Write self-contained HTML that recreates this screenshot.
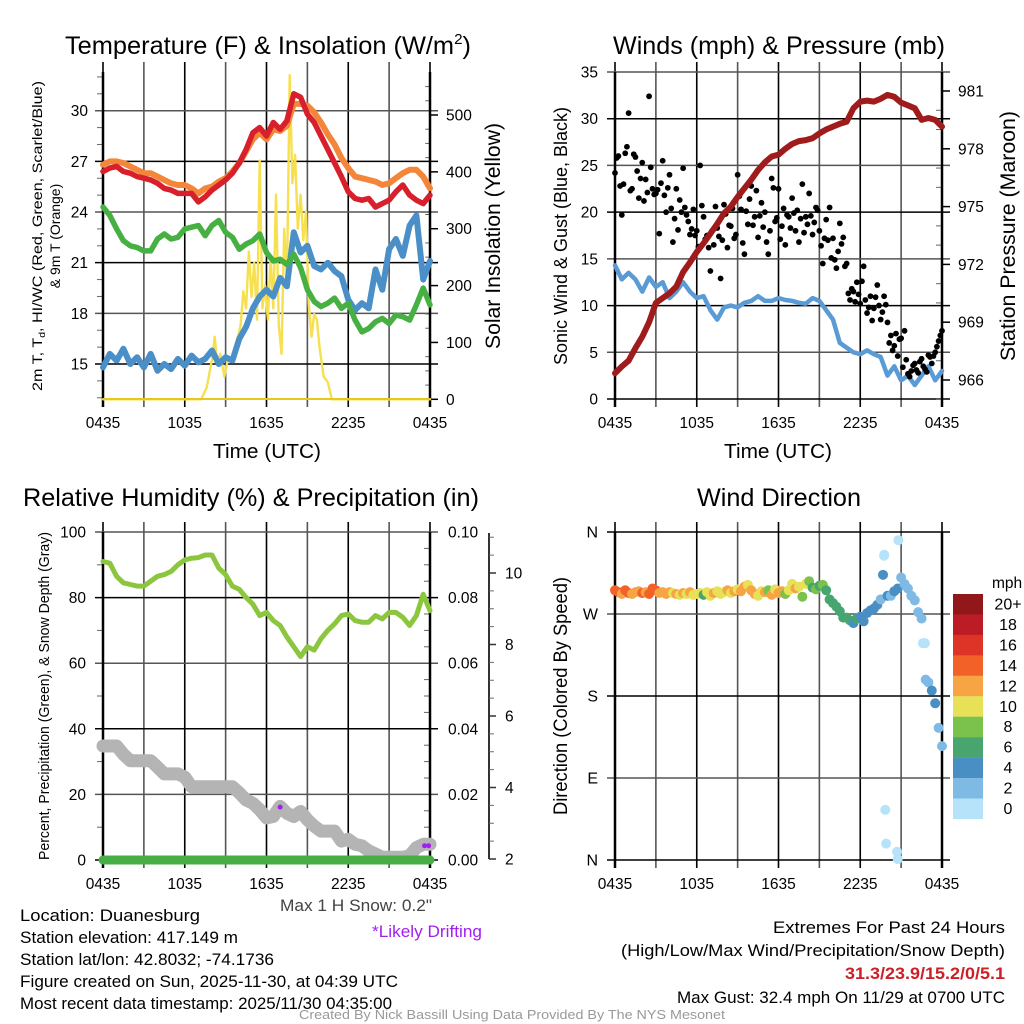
<!DOCTYPE html>
<html><head><meta charset="utf-8"><title>Duanesburg Meteogram</title>
<style>
html,body{margin:0;padding:0;background:#fff;}
svg{display:block;font-family:"Liberation Sans",sans-serif;}
</style></head>
<body>
<svg id="chart" xmlns="http://www.w3.org/2000/svg" width="1024" height="1024" viewBox="0 0 1024 1024">
<rect x="0" y="0" width="1024" height="1024" fill="#fff"/>
<text x="268" y="54" font-size="25" text-anchor="middle" textLength="406" lengthAdjust="spacingAndGlyphs">Temperature (F) &amp; Insolation (W/m<tspan font-size="15" dy="-10">2</tspan><tspan dy="10">)</tspan></text>
<text x="779" y="54" font-size="25" text-anchor="middle" textLength="332" lengthAdjust="spacingAndGlyphs">Winds (mph) &amp; Pressure (mb)</text>
<text x="251" y="506" font-size="25" text-anchor="middle" textLength="456" lengthAdjust="spacingAndGlyphs">Relative Humidity (%) &amp; Precipitation (in)</text>
<text x="779" y="506" font-size="25" text-anchor="middle" textLength="164" lengthAdjust="spacingAndGlyphs">Wind Direction</text>

<text x="267" y="458" font-size="20" text-anchor="middle" textLength="108" lengthAdjust="spacingAndGlyphs">Time (UTC)</text>
<text x="778" y="458" font-size="20" text-anchor="middle" textLength="108" lengthAdjust="spacingAndGlyphs">Time (UTC)</text>
<text transform="translate(42,236) rotate(-90)" font-size="14" text-anchor="middle" textLength="310" lengthAdjust="spacingAndGlyphs">2m T, T<tspan font-size="9" dy="3">d</tspan><tspan dy="-3">, HI/WC (Red, Green, Scarlet/Blue)</tspan></text>
<text transform="translate(60,236) rotate(-90)" font-size="14" text-anchor="middle">&amp; 9m T (Orange)</text>
<text transform="translate(500,236) rotate(-90)" font-size="21" text-anchor="middle" textLength="226" lengthAdjust="spacingAndGlyphs">Solar Insolation (Yellow)</text>
<text transform="translate(567,236) rotate(-90)" font-size="18.5" text-anchor="middle" textLength="258" lengthAdjust="spacingAndGlyphs">Sonic Wind &amp; Gust (Blue, Black)</text>
<text transform="translate(1015,236) rotate(-90)" font-size="21.5" text-anchor="middle" textLength="250" lengthAdjust="spacingAndGlyphs">Station Pressure (Maroon)</text>
<text transform="translate(49,696) rotate(-90)" font-size="14.5" text-anchor="middle" textLength="328" lengthAdjust="spacingAndGlyphs">Percent, Precipitation (Green), &amp; Snow Depth (Gray)</text>
<text transform="translate(567,696) rotate(-90)" font-size="19" text-anchor="middle" textLength="238" lengthAdjust="spacingAndGlyphs">Direction (Colored By Speed)</text>

<g font-size="16.5">
<text x="20" y="921" textLength="180" lengthAdjust="spacingAndGlyphs">Location: Duanesburg</text>
<text x="20" y="943" textLength="218" lengthAdjust="spacingAndGlyphs">Station elevation: 417.149 m</text>
<text x="20" y="965" textLength="254" lengthAdjust="spacingAndGlyphs">Station lat/lon: 42.8032; -74.1736</text>
<text x="20" y="987" textLength="378" lengthAdjust="spacingAndGlyphs">Figure created on Sun, 2025-11-30, at 04:39 UTC</text>
<text x="20" y="1009" textLength="372" lengthAdjust="spacingAndGlyphs">Most recent data timestamp: 2025/11/30 04:35:00</text>
</g>
<text x="432" y="911" font-size="16.5" fill="#444" text-anchor="end" textLength="152" lengthAdjust="spacingAndGlyphs">Max 1 H Snow: 0.2"</text>
<text x="427" y="937" font-size="16.5" fill="#a020f0" text-anchor="middle" textLength="110" lengthAdjust="spacingAndGlyphs">*Likely Drifting</text>
<g font-size="16.5" text-anchor="end">
<text x="1005" y="933" textLength="232" lengthAdjust="spacingAndGlyphs">Extremes For Past 24 Hours</text>
<text x="1005" y="956" textLength="384" lengthAdjust="spacingAndGlyphs">(High/Low/Max Wind/Precipitation/Snow Depth)</text>
<text x="1005" y="979" fill="#cc1f26" font-weight="bold" textLength="160" lengthAdjust="spacingAndGlyphs">31.3/23.9/15.2/0/5.1</text>
<text x="1005" y="1003" textLength="328" lengthAdjust="spacingAndGlyphs">Max Gust: 32.4 mph On 11/29 at 0700 UTC</text>
</g>
<text x="512" y="1019" font-size="12.5" fill="#999" text-anchor="middle" textLength="426" lengthAdjust="spacingAndGlyphs">Created By Nick Bassill Using Data Provided By The NYS Mesonet</text>
</svg>
<script>
// ---------- DATA ----------
const xTickLabels = ["0435","1035","1635","2235","0435"];
const halfHours = [0,0.5,1,1.5,2,2.5,3,3.5,4,4.5,5,5.5,6,6.5,7,7.5,8,8.5,9,9.5,10,10.5,11,11.5,12,12.5,13,13.5,14,14.5,15,15.5,16,16.5,17,17.5,18,18.5,19,19.5,20,20.5,21,21.5,22,22.5,23,23.5,24];
const tempTicks = [15,18,21,24,27,30];
const solarTicks = [0,100,200,300,400,500];
const temp2m = [26.4,26.6,26.7,26.4,26.3,26.1,26.0,25.9,25.7,25.4,25.3,25.1,25.1,25.1,24.6,24.9,25.3,25.6,25.9,26.3,26.9,27.7,28.7,29.0,28.5,29.3,28.9,29.4,31.0,30.8,29.8,29.3,28.5,27.7,26.9,26.1,25.2,24.8,24.7,24.8,24.3,24.5,24.7,25.2,25.6,25.0,24.7,24.5,25.0];
const temp9m = [26.8,27.0,27.0,26.9,26.7,26.5,26.3,26.3,26.1,25.9,25.7,25.6,25.6,25.4,25.1,25.4,25.5,25.8,26.0,26.4,26.9,27.6,28.3,28.7,28.3,28.9,28.8,29.1,30.4,30.4,30.3,29.9,29.3,28.6,28.0,27.2,26.6,26.1,26.0,25.9,25.8,25.6,25.7,26.0,26.3,26.5,26.5,26.1,25.4];
const dewpoint = [24.3,23.8,23.0,22.3,22.0,21.9,21.7,21.7,22.4,22.7,22.4,22.5,23.0,23.1,23.2,22.6,23.2,23.5,22.8,22.5,21.8,22.1,22.3,22.7,21.6,21.1,21.2,20.9,21.5,20.7,19.4,18.7,18.4,18.6,18.9,18.3,18.6,17.6,16.9,17.1,17.5,17.7,17.4,17.9,17.8,17.6,18.5,19.5,18.5];
const windChill = [14.8,15.6,15.2,15.9,15.0,15.4,14.8,15.6,14.6,15.0,14.7,15.3,14.9,15.5,15.1,15.3,15.8,15.0,15.4,15.2,16.5,17.2,18.3,19.0,19.4,19.0,20.1,19.6,22.8,21.6,22.0,20.8,20.6,21.0,20.5,20.2,18.8,18.2,18.6,18.3,20.6,19.4,21.8,22.4,21.4,23.2,23.8,20.0,21.1];
const solarTimes = [0,7.2,7.6,8.0,8.2,8.4,8.6,8.9,9.2,9.5,9.8,10.1,10.3,10.5,10.7,10.9,11.1,11.3,11.5,11.7,11.9,12.1,12.3,12.5,12.7,12.9,13.1,13.3,13.5,13.7,13.9,14.1,14.3,14.5,14.7,14.9,15.1,15.3,15.5,15.7,15.9,16.2,16.5,16.8,24];
const solarValues = [0,0,20,70,110,60,80,40,75,65,100,130,190,160,260,180,240,140,420,160,200,140,250,160,360,130,80,300,200,570,380,430,300,360,280,330,170,110,150,140,90,40,30,0,0];

const windTicks = [0,5,10,15,20,25,30,35];
const pressTicks = [966,969,972,975,978,981];
const sonicWind = [14.3,12.8,13.5,12.8,11.5,13.0,12.0,12.5,10.8,11.5,12.5,11.5,10.8,11.0,9.5,8.5,9.8,10.0,9.8,10.3,10.5,11.0,10.5,10.5,10.8,10.6,10.5,10.3,10.2,10.8,10.5,9.5,8.5,6.0,5.5,5.0,4.8,5.2,4.8,4.5,2.5,3.5,2.0,2.5,1.5,2.5,3.5,2.0,3.0];
const pressure = [966.35,966.7,967.0,967.65,968.25,969.0,970.0,970.25,970.5,970.85,971.6,972.1,972.65,973.1,973.6,974.1,974.65,975.0,975.5,975.95,976.4,976.9,977.3,977.6,977.7,978.0,978.25,978.4,978.45,978.55,978.8,979.0,979.15,979.3,979.4,980.1,980.45,980.5,980.45,980.6,980.8,980.7,980.4,980.25,980.1,979.5,979.6,979.5,979.15];
const gusts = [24.2,26.0,19.7,26.3, 30.6,22.5,25.9,21.5, 25.3,23.5,32.4,22.5, 22.0,17.7,25.5,20.0, 24.0,16.8,22.5,21.3, 24.7,19.7,17.6,20.3, 18.0,25.0,19.5,17.5, 13.7,16.5,18.3,12.9, 20.8,16.2,18.5,17.2, 24.0,20.3,15.5,18.7, 22.8,19.5,17.3,21.0, 20.0,15.5,23.6,19.0, 22.5,18.5,16.5,19.5, 21.5,18.0,16.8,23.0, 19.5,22.0,17.6,20.5, 18.0,14.5,19.2,20.5, 17.2,14.0,18.8,17.3, 14.5,10.6,11.5,12.5, 10.2,14.2,9.2,11.0, 9.7,12.2,8.5,11.0, 8.2,6.8,5.7,4.6, 6.5,7.3,2.7,3.0, 3.8,2.8,4.3,3.2, 4.7,3.8,5.0,6.2, 7.3];
const gusts2 = [25.8,22.8,23.0,27.0, 22.3,26.2,24.4,23.6, 21.2,22.1,24.8,21.9, 22.4,23.1,21.8,22.6, 20.4,19.3,18.1,20.0, 20.5,19.0,18.2,17.5, 16.3,20.7,17.1,16.2, 18.0,20.6,17.4,17.0, 19.8,18.6,20.4,17.6, 21.7,16.7,20.1,21.4, 18.6,22.3,19.6,18.4, 16.8,18.0,22.6,19.4, 17.1,20.4,19.7,18.3, 19.9,20.2,19.3,17.8, 18.7,19.6,18.9,20.2, 16.4,17.2,17.0,15.1, 14.9,15.8,16.6,14.2, 11.3,11.8,10.4,11.2, 12.6,10.6,9.8,8.4, 10.9,10.0,9.3,10.1, 6.0,5.2,7.0,6.4, 3.4,4.2,2.4,3.6, 3.1,4.0,3.5,2.9, 4.5,4.6,5.6,6.8];

const rhTicks = [0,20,40,60,80,100];
const precipTicks = ["0.00","0.02","0.04","0.06","0.08","0.10"];
const snowTicks = [2,4,6,8,10];
const relHumidity = [91,90.5,86.5,84.5,84.0,83.5,83.5,85.0,86.5,87.0,88.0,90.0,91.5,92.0,92.2,93.0,93.0,89,87,83.5,82.5,80,78,74.5,75.5,73,71.5,68,65,62,65,64,67.5,70,72,74.5,75,73,72.5,72.5,74.5,73.5,75.5,75.5,74,71.5,74.5,81,76];
const precip = [0,0,0,0,0,0,0,0,0,0,0,0,0,0,0,0,0,0,0,0,0,0,0,0,0,0,0,0,0,0,0,0,0,0,0,0,0,0,0,0,0,0,0,0,0,0,0,0,0];
const snowDepth = [5.16,5.16,5.16,4.93,4.75,4.75,4.75,4.75,4.57,4.38,4.38,4.38,4.29,4.02,4.02,4.02,4.02,4.02,4.02,4.02,3.85,3.65,3.56,3.38,3.15,3.19,3.47,3.28,3.19,3.33,3.10,2.92,2.78,2.78,2.78,2.50,2.55,2.41,2.37,2.23,2.14,2.05,2.05,2.05,2.05,2.09,2.32,2.41,2.41];
const driftTimes = [13.0,23.6,23.9];
const driftSnow = [3.45,2.37,2.37];

const dirTickLabels = ["N","E","S","W","N"];
const dirTickValues = [0,90,180,270,360];
const dirTimes = [];
for (let i = 0; i <= 96; i++) dirTimes.push(i * 0.25);
const windDir = [296,294,292,296, 293,292,294,295, 293,294,292,298, 296,293,294,292, 294,293,292,291, 293,292,294,291, 292,293,291,294, 290,293,295,292, 294,296,293,295, 297,295,300,302, 296,292,290,295, 294,296,291,297, 293,295,292,296, 303,298,300,289, 303,306,299,297, 301,302,296,286, 282,278,273,266, 266,263,260,265, 267,262,271,274, 276,280,286,334, 290,290,295,298, 310,303,298,290, 285,272,265,238, 195,186,172,145, 125];
const windDirSpeed = [14,15,13,14, 14,13,12,13, 14,12,14,15, 14,12,12,13, 12,11,12,11, 12,10,12,10, 10,11,7,11, 10,12,10,11, 11,12,10,12, 11,12,12,11, 13,12,11,10, 12,8,12,10, 12,13,9,11, 11,12,10,9, 11,8,7,8, 7,8,7,7, 6,6,6,6, 6,6,5,6, 4,4,4,4, 4,4,3,1, 4,3,4,4, 2,3,2,2, 2,2,2,1, 3,4,4,2, 2];
const outlierTimes = [20.8,19.76,19.84,19.9,20.7,20.75,19.67,22.6,22.8];
const outlierDirs = [351,335,55,18,9,1,313,238,198];
const outlierSpeeds = [0,0,0,0,0,0,4,1,2];
const legendLabels = ["20+","18","16","14","12","10","8","6","4","2","0"];
const legendColors = ["#92171b","#bb1c25","#de3427","#f26228","#f7a444","#e8e057","#7ac24c","#48a570","#4a8fc4","#7fbae5","#b6e3f9"];

// ---------- HELPERS ----------
const NS = "http://www.w3.org/2000/svg";
const svg = document.getElementById('chart');
function mk(parent, tag, attrs) {
  const e = document.createElementNS(NS, tag);
  for (const k in attrs) e.setAttribute(k, attrs[k]);
  parent.appendChild(e);
  return e;
}
function linScale(d0, d1, r0, r1) { return v => r0 + (v - d0) * (r1 - r0) / (d1 - d0); }
function pathFrom(xs, ys, fx, fy) {
  let d = "";
  for (let i = 0; i < xs.length; i++) d += (i ? "L" : "M") + fx(xs[i]).toFixed(1) + "," + fy(ys[i]).toFixed(1);
  return d;
}
function colorForSpeed(s) {
  let idx = Math.min(10, Math.floor(s / 2));
  return legendColors[10 - idx];
}

function frame(name, x0, x1, y0, y1) {
  const g = mk(svg, 'g', {});
  
  
  const fx = linScale(0, 24, x0, x1);
  for (let h = 0; h <= 24; h += 3) {
    const ln = mk(g, 'line', {x1: fx(h), x2: fx(h), y1: y0 - 10, y2: y1 + 8, stroke: (h % 6 === 0) ? '#000' : '#555', 'stroke-width': 1.6});
    
    
  }
  for (let i = 0; i < xTickLabels.length; i++) {
    const t = mk(g, 'text', {x: fx(i * 6), y: y1 + 29, 'font-size': 15.5, 'text-anchor': 'middle'});
    t.textContent = xTickLabels[i];
    
    
  }
  return {g, fx};
}
function hGrid(g, ys, x0, x1) {
  for (let i = 0; i < ys.length; i++) {
    const ln = mk(g, 'line', {x1: x0 - 8, x2: x1 + 8, y1: ys[i], y2: ys[i], stroke: i % 2 ? '#555' : '#000', 'stroke-width': 1.5});
    
    
  }
}
function label(g, x, y, txt, anchor, name, fs) {
  const t = mk(g, 'text', {x: x, y: y + 5.5, 'font-size': fs || 15.5, 'text-anchor': anchor});
  t.textContent = txt;
  
  
}
function border(g, x0, x1, y0, y1) {
  const l1 = mk(g, 'line', {x1: x0, x2: x0, y1: y0, y2: y1 + 8, stroke: '#000', 'stroke-width': 2.5});
  
  
  const l2 = mk(g, 'line', {x1: x1, x2: x1, y1: y0, y2: y1 + 8, stroke: '#000', 'stroke-width': 2.5});
  
  
}
function minorTicks(g, x, ys, dir) {
  for (const y of ys) {
    const ln = mk(g, 'line', {x1: x, x2: x + dir * 6, y1: y, y2: y, stroke: '#666', 'stroke-width': 1});
    
    
  }
}
function line(name, d, color, w, op) {
  const p = mk(svg, 'path', {d: d, fill: 'none', stroke: color, 'stroke-width': w, 'stroke-linejoin': 'round', 'stroke-linecap': 'round', opacity: op || 1});
  
  
  return p;
}

// ---------- PANEL 1 ----------
(function(){
  const x0 = 103, x1 = 430, y0 = 72, y1 = 399;
  const {g, fx} = frame('temperature', x0, x1, y0, y1);
  const fT = linScale(15, 30, 364, 110.7);
  const fW = linScale(0, 500, 399.3, 115);
  hGrid(g, tempTicks.map(fT), x0, x1);
  for (let t = 13; t <= 32; t++) if (t % 3) minorTicks(g, x0, [fT(t)], -1);
  for (let w = 25; w <= 550; w += 25) if (w % 100) minorTicks(g, x1, [fW(w)], -0.8);
  tempTicks.forEach(t => label(g, 88, fT(t), String(t), 'end', 'temp-tick-label'));
  solarTicks.forEach(w => { const ln = mk(g,'line',{x1:x1,x2:x1+8,y1:fW(w),y2:fW(w),stroke:'#000','stroke-width':1.5});   label(g, 446, fW(w), String(w), 'start', 'solar-tick-label'); });
  line('solar-insolation-line', pathFrom(solarTimes, solarValues, fx, fW), '#f7e04f', 2.4);
  line('windchill-line', pathFrom(halfHours, windChill, fx, fT), '#4a8fc8', 6);
  line('dewpoint-line', pathFrom(halfHours, dewpoint, fx, fT), '#47b043', 5.5);
  line('temp-9m-line', pathFrom(halfHours, temp9m, fx, fT), '#f4863a', 6);
  line('temp-2m-line', pathFrom(halfHours, temp2m, fx, fT), '#d7202b', 5.5);
  border(g, x0, x1, y0, y1);
  const base = mk(svg, 'line', {x1: x0, x2: x1, y1: y1, y2: y1, stroke: '#e6c81e', 'stroke-width': 2});
  
  
})();

// ---------- PANEL 2 ----------
(function(){
  const x0 = 615, x1 = 942, y0 = 72, y1 = 399;
  const {g, fx} = frame('winds', x0, x1, y0, y1);
  const fWd = linScale(0, 35, 399, 72);
  const fP = linScale(966, 981, 380, 91);
  hGrid(g, windTicks.map(fWd), x0, x1);
  windTicks.forEach(w => label(g, 598, fWd(w), String(w), 'end', 'wind-tick-label'));
  pressTicks.forEach(p => { const ln = mk(g,'line',{x1:x1,x2:x1+8,y1:fP(p),y2:fP(p),stroke:'#000','stroke-width':1.5});   label(g, 958, fP(p), String(p), 'start', 'pressure-tick-label'); });
  for (let p = 965; p <= 982; p++) if ((p - 966) % 3) minorTicks(g, x1, [fP(p)], -1);
  line('sonic-wind-line', pathFrom(halfHours, sonicWind, fx, fWd), '#5a9bd5', 4.5);
  const gg = mk(svg, 'g', {});
  
  
  gusts.forEach((v, i) => {
    const c = mk(gg, 'circle', {cx: fx(i * 0.25), cy: fWd(v), r: 2.9, fill: '#000'});
    
    
  });
  gusts2.forEach((v, i) => {
    const c = mk(gg, 'circle', {cx: fx(i * 0.25 + 0.125), cy: fWd(v), r: 2.9, fill: '#000'});
    
    
  });
  line('pressure-line', pathFrom(halfHours, pressure, fx, fP), '#a01b1b', 6);
  border(g, x0, x1, y0, y1);
})();

// ---------- PANEL 3 ----------
(function(){
  const x0 = 103, x1 = 430, y0 = 532, y1 = 860;
  const {g, fx} = frame('humidity', x0, x1, y0, y1);
  const fR = linScale(0, 100, 860, 532);
  const fPr = linScale(0, 0.1, 860, 532);
  const fS = linScale(2, 10, 859, 573);
  hGrid(g, rhTicks.map(fR), x0, x1);
  for (let r = 10; r < 100; r += 20) minorTicks(g, x0, [fR(r)], -1);
  for (let r = 5; r < 100; r += 5) if (r % 20) minorTicks(g, x1, [fR(r)], -1);
  rhTicks.forEach(r => label(g, 86, fR(r), String(r), 'end', 'rh-tick-label'));
  precipTicks.forEach((p, i) => label(g, 448, fR(i * 20), p, 'start', 'precip-tick-label'));
  const sa = mk(g, 'line', {x1: 489, x2: 489, y1: 533, y2: 859, stroke: '#333', 'stroke-width': 2});
  
  
  snowTicks.forEach(s => { const ln = mk(g,'line',{x1:489,x2:496,y1:fS(s),y2:fS(s),stroke:'#333','stroke-width':1.5});   label(g, 505, fS(s), String(s), 'start', 'snow-tick-label'); });
  for (let s = 2.5; s <= 11; s += 0.5) if (s % 2) minorTicks(g, 489, [fS(s)], 0.8);
  line('snow-depth-line', pathFrom(halfHours, snowDepth, fx, fS), '#b4b4b4', 13);
  const dg = mk(svg, 'g', {});
  
  
  driftTimes.forEach((t, i) => {
    const c = mk(dg, 'circle', {cx: fx(t), cy: fS(driftSnow[i]), r: 2.5, fill: '#a020f0'});
    
    
  });
  line('relative-humidity-line', pathFrom(halfHours, relHumidity, fx, fR), '#8cc63f', 5);
  line('precipitation-line', pathFrom(halfHours, precip, fx, fPr), '#47ad45', 9);
  border(g, x0, x1, y0, y1);
})();

// ---------- PANEL 4 ----------
(function(){
  const x0 = 615, x1 = 942, y0 = 532, y1 = 860;
  const {g, fx} = frame('wind-direction', x0, x1, y0, y1);
  const fD = linScale(0, 360, 860, 532);
  hGrid(g, dirTickValues.map(fD), x0, x1);
  dirTickValues.forEach((d, i) => label(g, 598, fD(d), dirTickLabels[i], 'end', 'direction-tick-label', 16));
  const pg = mk(svg, 'g', {});
  
  
  windDir.forEach((d, i) => {
    const c = mk(pg, 'circle', {cx: fx(dirTimes[i]), cy: fD(d), r: 5, fill: colorForSpeed(windDirSpeed[i])});
    
    
  });
  outlierDirs.forEach((d, i) => {
    const c = mk(pg, 'circle', {cx: fx(outlierTimes[i]), cy: fD(d), r: 5, fill: colorForSpeed(outlierSpeeds[i])});
    
    
  });
  border(g, x0, x1, y0, y1);
  const lg = mk(svg, 'g', {});
  
  
  const mph = mk(lg, 'text', {x: 992, y: 588, 'font-size': 15.5});
  mph.textContent = 'mph';
  
  
  legendLabels.forEach((lab, i) => {
    const r = mk(lg, 'rect', {x: 953, y: 594 + i * 20.45, width: 30, height: 20.6, fill: legendColors[i]});
    
    
    const t = mk(lg, 'text', {x: 1008, y: 604 + i * 20.45 + 5.5, 'font-size': 16, 'text-anchor': 'middle'});
    t.textContent = lab;
    
    
  });
})();
</script>
</body></html>
